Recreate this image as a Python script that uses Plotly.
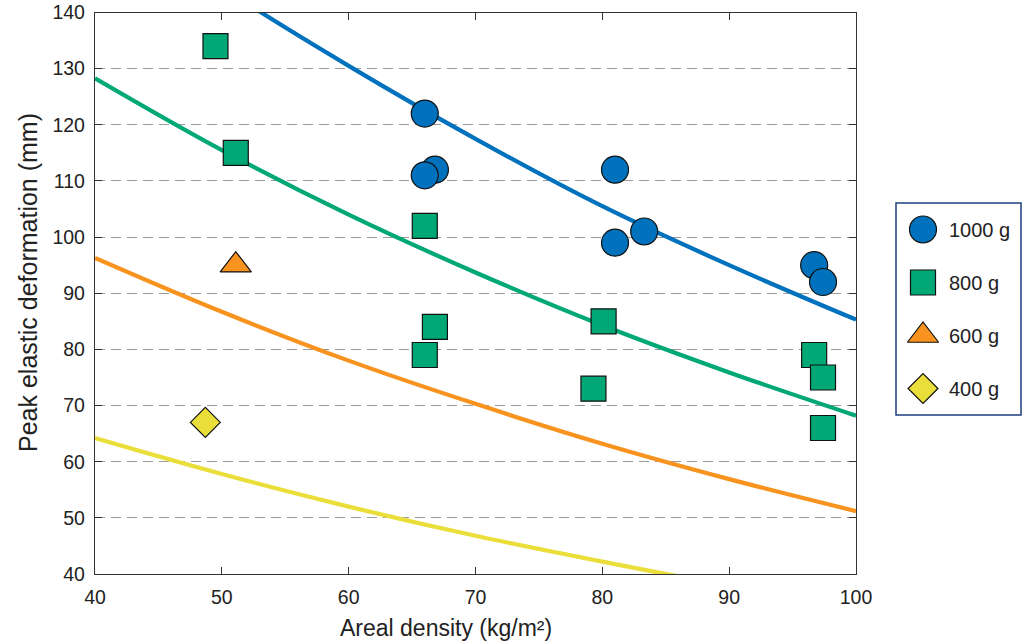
import plotly.graph_objects as go

# ---------------- data ----------------
# fitted curves (at x = 40..100)
x_fit = [40, 50, 60, 70, 80, 90, 100]
fit_1000 = [160.3, 144.5, 130.5, 117.5, 105.5, 95.0, 85.3]
fit_800 = [128.3, 115.5, 104.0, 93.7, 84.3, 75.9, 68.2]
fit_600 = [96.3, 86.7, 78.0, 70.3, 63.2, 56.9, 51.2]
fit_400 = [64.2, 57.8, 52.0, 46.8, 42.2, 37.9, 34.1]

# measured points
x_1000 = [66.0, 66.8, 66.0, 81.0, 81.0, 83.3, 96.7, 97.4]
y_1000 = [122, 112, 111, 112, 99, 101, 95, 92]
x_800 = [49.5, 51.1, 66.0, 66.8, 66.0, 80.1, 79.3, 96.7, 97.4, 97.4]
y_800 = [134, 115, 102, 84, 79, 85, 73, 79, 75, 66]
x_600 = [51.1]
y_600 = [95]
x_400 = [48.7]
y_400 = [67]

series_names = ["1000 g", "800 g", "600 g", "400 g"]
x_ticks = [40, 50, 60, 70, 80, 90, 100]
y_ticks = [40, 50, 60, 70, 80, 90, 100, 110, 120, 130, 140]

# ---------------- styles ----------------
colors = ["#0072BD", "#00A875", "#F7931E", "#EADF3A"]
symbols = ["circle", "square", "triangle-up", "diamond"]
sizes = [27, 25, 27, 23]
FONT = "Liberation Sans, Arial, sans-serif"
TXT = "#222222"
AX = "#333333"

W, H = 1024, 643
PX0, PX1 = 95, 856      # plot area in pixels
PY0, PY1 = 12.5, 574

fig = go.Figure()

fits = [fit_1000, fit_800, fit_600, fit_400]
for fy, c in zip(fits, colors):
    fig.add_trace(go.Scatter(
        x=x_fit, y=fy, mode="lines",
        line=dict(color=c, width=4.2, shape="spline", smoothing=1.0),
        showlegend=False, hoverinfo="skip"))

pts = [(x_1000, y_1000), (x_800, y_800), (x_600, y_600), (x_400, y_400)]
for (px, py), c, s, sz, nm in zip(pts, colors, symbols, sizes, series_names):
    fig.add_trace(go.Scatter(
        x=px, y=py, mode="markers", name=nm,
        marker=dict(color=c, symbol=s, size=sz,
                    line=dict(color="#111111", width=1.2)),
        showlegend=False))

# ---------------- custom legend (separate small axes) ----------------
leg_pos = list(range(1, len(series_names) + 1))
for i, (c, s, sz) in enumerate(zip(colors, symbols, sizes)):
    fig.add_trace(go.Scatter(
        x=[0.216], y=[leg_pos[i]], mode="markers", xaxis="x2", yaxis="y2",
        marker=dict(color=c, symbol=s, size=sz,
                    line=dict(color="#111111", width=1.2)),
        showlegend=False, hoverinfo="skip", cliponaxis=False))
for i, nm in enumerate(series_names):
    fig.add_annotation(x=0.41, y=leg_pos[i], xref="x2", yref="y2",
                       text=nm, showarrow=False, xanchor="left",
                       yanchor="middle",
                       font=dict(family=FONT, size=20, color=TXT))

LX0, LX1 = 896, 1021
LY0, LY1 = 203, 415

fig.add_shape(type="rect", xref="paper", yref="paper",
              x0=LX0 / W, x1=LX1 / W, y0=1 - LY1 / H, y1=1 - LY0 / H,
              line=dict(color="#1F3F7F", width=1.5), fillcolor="rgba(0,0,0,0)")

# ---------------- axis titles ----------------
fig.add_annotation(x=446 / W, y=1 - 628 / H, xref="paper", yref="paper",
                   text="Areal density (kg/m²)", showarrow=False,
                   xanchor="center", yanchor="middle",
                   font=dict(family=FONT, size=23, color=TXT))
fig.add_annotation(x=28 / W, y=1 - 283 / H, xref="paper", yref="paper",
                   text="Peak elastic deformation (mm)", showarrow=False,
                   textangle=-90, xanchor="center", yanchor="middle",
                   font=dict(family=FONT, size=25, color=TXT))

axis_common = dict(
    showline=True, linecolor=AX, linewidth=1.3, mirror="allticks",
    ticks="inside", ticklen=7, tickwidth=1.3, tickcolor=AX,
    tickfont=dict(family=FONT, size=19.5, color=TXT),
    zeroline=False, automargin=False)

fig.update_layout(
    width=W, height=H,
    margin=dict(l=0, r=0, t=0, b=0),
    paper_bgcolor="white", plot_bgcolor="white",
    showlegend=False,
    xaxis=dict(range=[40, 100], tickvals=x_ticks, showgrid=False,
               domain=[PX0 / W, PX1 / W], ticklabelstandoff=5,
               **axis_common),
    yaxis=dict(range=[40, 140], tickvals=y_ticks, showgrid=True,
               gridcolor="#9a9a9a", gridwidth=1.2, griddash="10px,6px",
               domain=[1 - PY1 / H, 1 - PY0 / H], ticklabelstandoff=5,
               **axis_common),
    xaxis2=dict(domain=[LX0 / W, LX1 / W], range=[0, 1], visible=False,
                anchor="y2", fixedrange=True),
    yaxis2=dict(domain=[1 - LY1 / H, 1 - LY0 / H], range=[4.5, 0.5],
                visible=False, anchor="x2", fixedrange=True),
)

fig.write_html("out.html")
